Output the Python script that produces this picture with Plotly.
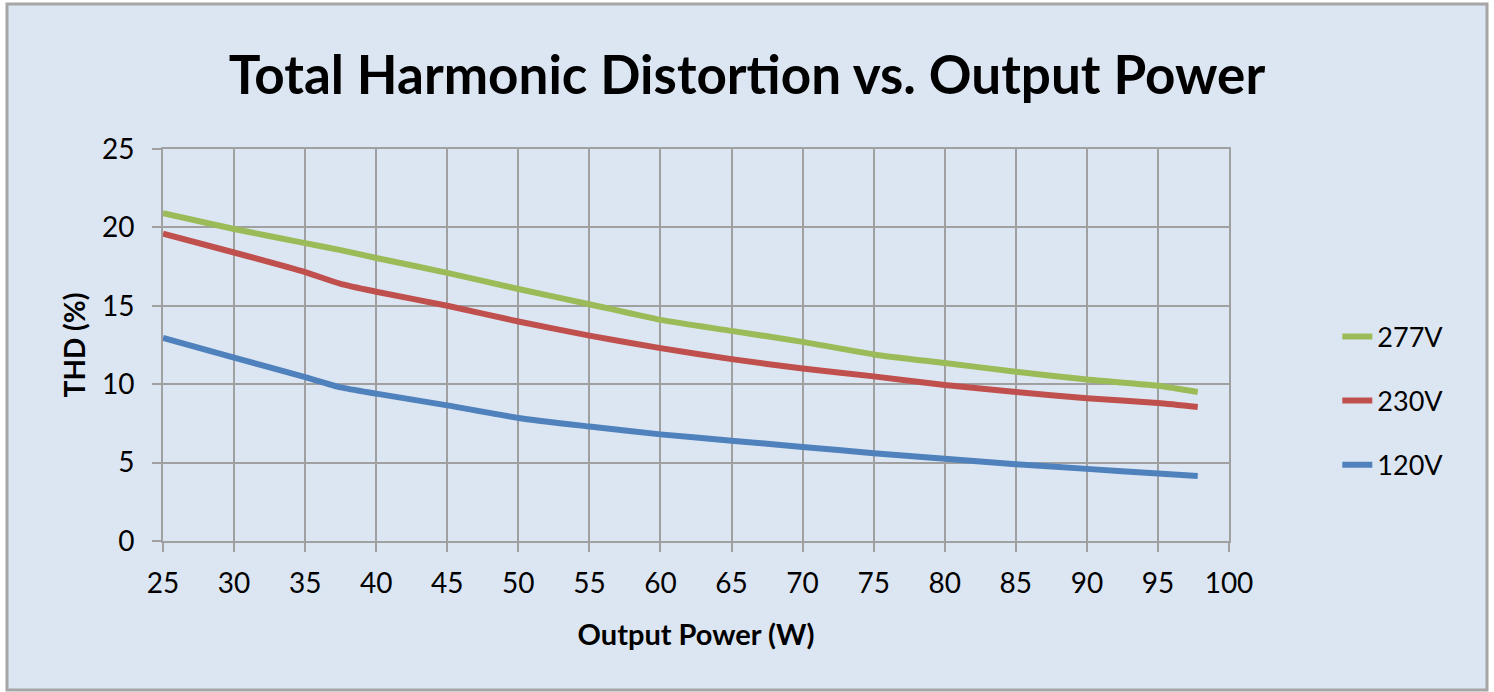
import plotly.graph_objects as go

# Output power (W) sample positions
power = [25, 30, 35, 37.5, 40, 45, 50, 55, 60, 65, 70, 75, 80, 85, 90, 95, 97.8]

thd_277 = [20.9, 19.9, 19.0, 18.55, 18.05, 17.1, 16.07, 15.1, 14.1, 13.4, 12.7, 11.9, 11.35, 10.8, 10.3, 9.9, 9.5]
thd_230 = [19.6, 18.4, 17.15, 16.4, 15.9, 15.0, 14.0, 13.1, 12.3, 11.6, 11.0, 10.5, 9.95, 9.5, 9.1, 8.8, 8.55]
thd_120 = [12.95, 11.7, 10.45, 9.8, 9.4, 8.65, 7.85, 7.3, 6.8, 6.4, 6.0, 5.6, 5.25, 4.9, 4.6, 4.3, 4.15]

series_names = ["277V", "230V", "120V"]
series_colors = ["#9bbb59", "#c0504d", "#4f81bd"]
series_values = [thd_277, thd_230, thd_120]

x_ticks = list(range(25, 101, 5))
y_ticks = list(range(0, 26, 5))

FONT = "Lato"

fig = go.Figure()
for i, (name, color, vals) in enumerate(zip(series_names, series_colors, series_values)):
    fig.add_trace(go.Scatter(
        x=power, y=vals, name=name, mode="lines",
        line=dict(color=color, width=6, shape="spline", smoothing=0.6),
        legendgroup=name,
    ))

grid = "#a0a0a0"
fig.update_layout(
    width=1494, height=692,
    margin=dict(l=163, r=265, t=149, b=151),
    paper_bgcolor="white",
    plot_bgcolor="white",
    font=dict(family=FONT, color="#000000", size=27),
    title=dict(
        text="<b>Total Harmonic Distortion vs. Output Power</b>",
        x=0.5, xref="container", xanchor="center",
        y=1 - 75 / 692, yref="container", yanchor="middle",
        font=dict(family=FONT, size=53, color="#000000"),
    ),
    xaxis=dict(
        range=[25, 100], tickvals=x_ticks, showgrid=True, gridcolor=grid, gridwidth=2,
        showline=True, linecolor=grid, linewidth=2, mirror=True,
        ticks="outside", ticklen=9, tickwidth=2, tickcolor=grid,
        tickfont=dict(size=28), ticklabelstandoff=7, zeroline=False,
        title=dict(text="<b>Output Power (W)</b>", font=dict(size=29), standoff=27),
    ),
    yaxis=dict(
        range=[0, 25], tickvals=y_ticks, showgrid=True, gridcolor=grid, gridwidth=2,
        showline=True, linecolor=grid, linewidth=2, mirror=True,
        ticks="outside", ticklen=9, tickwidth=2, tickcolor=grid,
        tickfont=dict(size=28), ticklabelstandoff=12, zeroline=False,
        title=dict(text="<b>THD (%)</b>", font=dict(size=28), standoff=8),
    ),
    legend=dict(
        x=1.1016, xanchor="left", y=0.583, yanchor="top",
        bgcolor="rgba(0,0,0,0)", font=dict(size=27),
        tracegroupgap=26, traceorder="grouped",
    ),
    shapes=[dict(
        type="rect", xref="paper", yref="paper", layer="below",
        x0=(7 - 163) / 1066, x1=(1487 - 163) / 1066,
        y0=(541 - 690) / 392, y1=(541 - 4) / 392,
        fillcolor="#dce6f2", line=dict(color="#a6a6a6", width=3),
    )],
)

fig.write_html(
    "out.html",
    config={"displayModeBar": False},
    post_script="document.body.style.margin='0';document.body.style.padding='0';",
)
